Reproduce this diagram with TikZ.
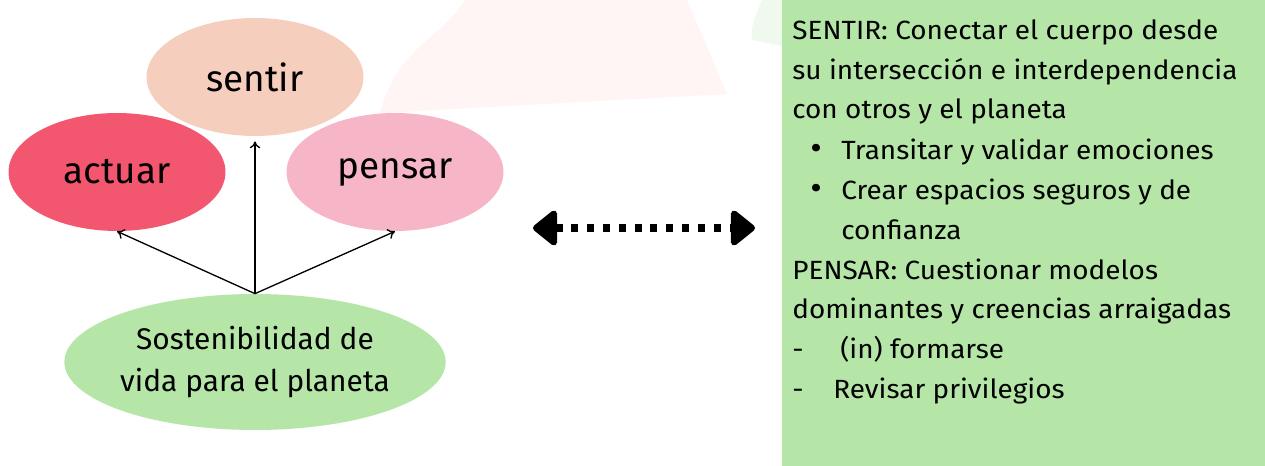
\documentclass[tikz,border=0pt]{standalone}
\usepackage{fontspec}
\setmainfont{Fira Sans}
\newfontfamily\panelfont[FakeStretch=1.06]{Fira Sans}
\usetikzlibrary{shapes.geometric,arrows.meta}
\definecolor{peach}{HTML}{F6CEBD}
\definecolor{rosered}{HTML}{F3576F}
\definecolor{lightpink}{HTML}{F7B6C7}
\definecolor{leafgreen}{HTML}{B5E6A8}
\definecolor{blush}{HTML}{FEF5F4}
\definecolor{mint}{HTML}{F0F9EE}
\begin{document}
\begin{tikzpicture}[x=0.02cm,y=-0.02cm]
	\tikzstyle{blob}=[ellipse,minimum width=4.34cm,minimum height=2.36cm,inner sep=0pt,font=\fontsize{21}{25}\selectfont]
	\tikzstyle{line}=[anchor=base west,inner sep=0pt,font=\panelfont\fontsize{15}{18}\selectfont]
	\tikzstyle{dot}=[anchor=base west,inner sep=0pt,font=\panelfont\fontsize{19}{20}\selectfont]
	\tikzstyle{up}=[-{To[length=4pt,width=6pt]},line width=0.75pt]
	\useasboundingbox (0,0) rectangle (1265,466);
	% faint shapes behind
	\fill[blush] (465,0) .. controls (440,40) and (392,50) .. (378,122) -- (400,112) -- (727,94) -- (687,0) -- cycle;
	\fill[mint] (762,0) .. controls (755,15) and (750,30) .. (752,40) -- (782,46) -- (782,0) -- cycle;
	% left part
	\node[blob,fill=peach] (sentir) at (255,77) {sentir};
	\node[blob,fill=rosered] (actuar) at (117,172) {actuar};
	\node[blob,fill=lightpink] (pensar) at (395,172) {pensar};
	\node[ellipse,fill=leafgreen,minimum width=7.6cm,minimum height=2.72cm,inner sep=0pt,align=center,font=\fontsize{17}{24}\selectfont] (vida) at (255,362) {Sostenibilidad de\\vida para el planeta};
	\draw[up] (vida.north) -- (actuar.south);
	\draw[up,shorten >=0.1cm] (vida.north) -- (sentir.south);
	\draw[up] (vida.north) -- (pensar.south);
	% double arrow
	\coordinate (dl) at (533,228);
	\coordinate (dr) at (755,228);
	\draw[line width=4.5pt,dash pattern=on 4pt off 5pt,{Triangle[length=15pt,width=23pt,round]}-{Triangle[length=15pt,width=23pt,round]}] (dl) -- (dr);
	% right panel
	\node[fill=leafgreen,minimum width=9.66cm,minimum height=9.32cm,inner sep=0pt,anchor=north west] (panel) at (782,0) {};
	\node[line] (s1) at (792,40) {SENTIR: Conectar el cuerpo desde};
	\node[line] (s2) at (792,80) {su intersección e interdependencia};
	\node[line] (s3) at (792,119) {con otros y el planeta};
	\node[dot] (b1) at (810,159) {•};
	\node[line] (s4) at (841,159) {Transitar y validar emociones};
	\node[dot] (b2) at (810,199) {•};
	\node[line] (s5) at (841,199) {Crear espacios seguros y de};
	\node[line] (s6) at (841,239) {confianza};
	\node[line] (p1) at (792,279) {PENSAR: Cuestionar modelos};
	\node[line] (p2) at (792,318) {dominantes y creencias arraigadas};
	\node[line] (d1) at (792,358) {-};
	\node[line] (p3) at (840,358) {(in) formarse};
	\node[line] (d2) at (792,398) {-};
	\node[line] (p4) at (833,398) {Revisar privilegios};
\end{tikzpicture}
\end{document}
